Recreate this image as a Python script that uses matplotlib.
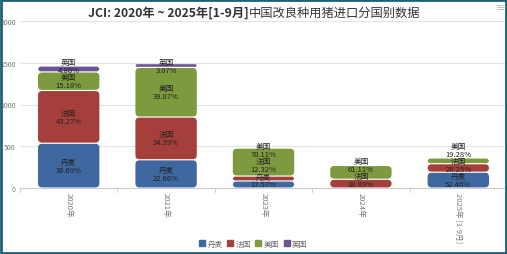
import matplotlib
matplotlib.use('Agg')
import matplotlib.pyplot as plt
from matplotlib.patches import FancyBboxPatch, Rectangle
import numpy as np

plt.rcParams['font.family'] = ['Noto Sans CJK SC', 'DejaVu Sans']

years = ['2020年', '2021年', '2023年', '2024年', '2025年 [1-9月]']
countries = ['丹麦', '法国', '美国', '英国']
colors = ['#3e689f', '#a53f3c', '#7d9a3e', '#6c5393']

# head counts (approx.)
denmark = [536, 338, 84, 0, 189]
france = [632, 512, 59, 105, 102]
usa = [222, 594, 335, 165, 69]
uk = [71, 46, 0, 0, 0]
# percent labels shown on the chart
pct_denmark = ['36.69%', '22.66%', '17.57%', None, '52.46%']
pct_france = ['43.27%', '34.39%', '12.32%', '38.89%', '28.25%']
pct_usa = ['15.18%', '39.87%', '70.11%', '61.11%', '19.28%']
pct_uk = ['4.86%', '3.07%', None, None, None]

series = [denmark, france, usa, uk]
pcts = [pct_denmark, pct_france, pct_usa, pct_uk]

fig = plt.figure(figsize=(5.07, 2.55), dpi=100)
ax = fig.add_axes([20 / 507, 1 - 189 / 255, 487 / 507, 167 / 255])

x = np.arange(len(years))
w = 0.63
px_y = 2000 / 167       # data units per pixel (y)
px_x = 1 / 97.4          # data units per pixel (x)
bottom = np.zeros(len(years))
label_h = 180
label_top = np.zeros(len(years))

for vals, col, name, pc in zip(series, colors, countries, pcts):
    vals = np.array(vals, dtype=float)
    bars = ax.bar(x, vals, w, bottom=bottom, color=col, label=name)
    for b in bars:
        b.set_visible(False)
        h = b.get_height()
        if h <= 0:
            continue
        r = min(4 * px_x, h / px_y * px_x / 2)
        fb = FancyBboxPatch((b.get_x(), b.get_y() + 0.6 * px_y), b.get_width(), h - 1.2 * px_y,
                            boxstyle='round,pad=0,rounding_size=%f' % r,
                            mutation_aspect=px_y / px_x, facecolor=col, edgecolor='none',
                            zorder=3)
        ax.add_patch(fb)
    # stack labels from the bottom so they don't overlap
    for i in range(len(years)):
        if vals[i] <= 0 or pc[i] is None:
            continue
        c = bottom[i] + vals[i] / 2
        c = max(c, label_top[i] + label_h / 2)
        label_top[i] = c + label_h / 2
        ax.text(x[i], c, name + '\n' + pc[i], ha='center', va='center', fontsize=5.5,
                color='#222222', linespacing=1.0, zorder=5)
    bottom += vals

ax.set_xlim(-0.5, 4.5)
ax.set_ylim(0, 2000)
ax.set_yticks([0, 500, 1000, 1500, 2000])
ax.set_xticks(x)
ax.set_xticklabels(years, rotation=270, fontsize=5.5, color='#777777')
ax.tick_params(axis='y', length=0, labelsize=5, labelcolor='#777777', pad=3)
ax.tick_params(axis='x', length=0, pad=3)
ax.grid(axis='y', color='#e3e3e3', linewidth=0.8)
ax.set_axisbelow(True)
for s in ['top', 'right', 'left']:
    ax.spines[s].set_visible(False)
ax.spines['bottom'].set_color('#cccccc')
for xb in np.arange(-0.5, 4.6, 1):
    ax.plot([xb, xb], [0, -4 * px_y], color='#cccccc', lw=0.6, clip_on=False)

handles = [Rectangle((0, 0), 1, 1, color=c) for c in colors]
fig.legend(handles, countries, loc='center', bbox_to_anchor=(253 / 507, 1 - 245 / 255),
           ncol=4, frameon=False, fontsize=5.5, handlelength=0.8, handleheight=0.8,
           handletextpad=0.3, columnspacing=0.6, labelcolor='#666666')

# title: bold latin part + regular chinese part, centred together
t1 = fig.text(0, 1 - 13 / 255, 'JCI: 2020年 ~ 2025年[1-9月]', ha='left', va='center',
              fontsize=8.8, fontweight='bold', color='#333333')
t2 = fig.text(0, 1 - 13 / 255, '中国改良种用猪进口分国别数据', ha='left', va='center',
              fontsize=8.8, color='#333333')
fig.canvas.draw()
r = fig.canvas.get_renderer()
w1 = t1.get_window_extent(r).width / fig.bbox.width
w2 = t2.get_window_extent(r).width / fig.bbox.width
x0 = 254 / 507 - (w1 + w2) / 2
t1.set_x(x0)
t2.set_x(x0 + w1)

fig.text(501 / 507, 1 - 7 / 255, '≡', ha='center', va='center', fontsize=7, color='#aaaaaa')

fig.patches.append(Rectangle((0.002, 0.004), 0.996, 0.992, transform=fig.transFigure,
                             fill=False, edgecolor='#1d607c', linewidth=2))

fig.savefig('out.png', dpi=100)
